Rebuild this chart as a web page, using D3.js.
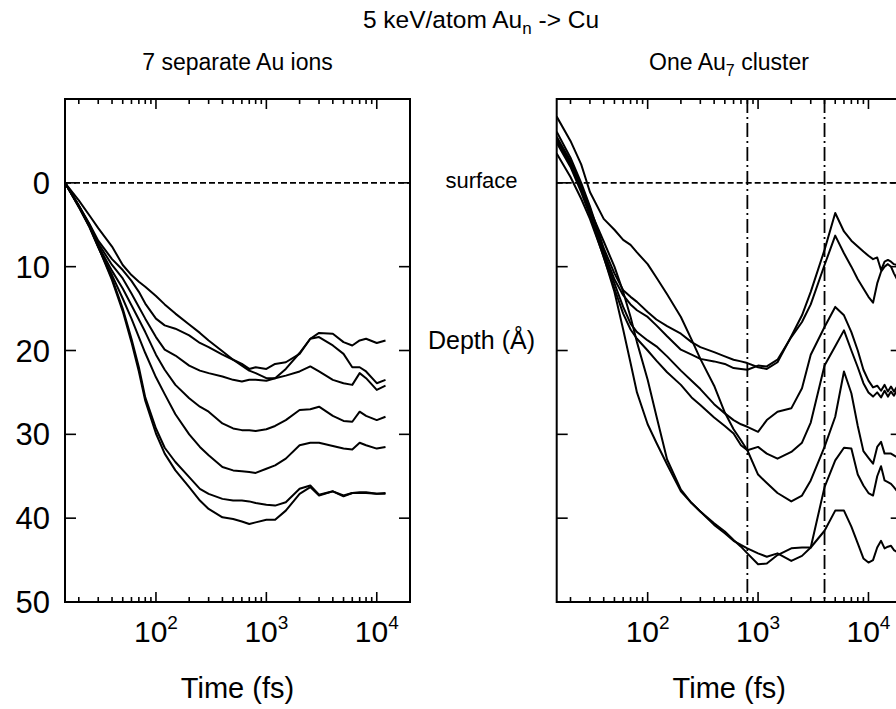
<!DOCTYPE html>
<html><head><meta charset="utf-8">
<script src="https://cdn.jsdelivr.net/npm/d3@7"></script>
<style>
html,body{margin:0;padding:0;background:#fff;}
svg{display:block;font-family:"Liberation Sans",Arial,Helvetica,sans-serif;}
</style></head>
<body>
<svg id="chart" width="896" height="709"></svg>
<script>
// ---------- data ----------
const timesLeft = [15,20,25,30,40,50,60,70,80,100,120,150,200,250,300,400,500,600,700,800,1000,1200,1500,2000,2500,3000,4000,5000,6000,7000,8000,10000,12000];
const ionA = [0,2.1,3.9,5.4,7.6,9.8,11.0,11.8,12.4,13.5,14.5,15.6,16.9,17.9,18.8,20.1,21.1,21.8,22.4,22.7,23.3,23.3,22.2,20.3,18.6,17.9,18.0,19.0,19.4,18.8,18.6,19.1,18.8];
const ionB = [0,2.7,4.9,6.9,9.1,10.4,11.7,13.0,14.4,16.2,17.0,17.4,18.2,19.1,19.6,20.5,21.1,21.6,22.2,22.0,22.2,21.6,21.4,20.4,18.6,18.4,19.4,20.4,22.0,22.0,22.5,23.9,23.5];
const ionC = [0,2.7,5.0,7.2,9.8,11.4,13.2,14.8,16.2,18.4,19.9,20.6,21.8,22.4,22.7,23.1,23.5,23.7,23.5,23.5,23.6,23.3,23.0,22.5,21.9,22.5,23.5,23.9,24.1,22.7,23.3,24.7,24.2];
const ionD = [0,2.8,5.1,7.5,10.5,12.6,14.6,16.3,17.8,20.5,22.3,24.1,25.7,26.7,27.3,28.7,29.3,29.5,29.5,29.6,29.4,29.0,28.3,27.1,27.0,26.7,27.8,28.4,28.5,27.3,27.8,28.3,27.9];
const ionE = [0,2.9,5.3,7.7,11.0,13.8,16.2,18.4,20.3,23.2,25.2,27.6,30.0,31.5,32.5,33.9,34.3,34.4,34.5,34.6,34.1,33.7,32.9,31.3,31.0,31.0,31.4,31.7,31.8,31.0,31.3,31.7,31.5];
const ionF = [0,2.8,5.2,7.6,11.4,15.0,18.6,22.0,25.6,29.3,31.6,33.3,35.1,36.5,37.1,37.7,37.9,37.9,38.0,38.2,38.4,38.5,38.1,36.5,36.1,37.2,36.8,37.3,37.0,36.9,36.9,37.1,37.0];
const ionG = [0,2.8,5.2,7.6,11.6,15.3,19.0,22.5,26.0,29.9,32.3,34.3,36.3,37.9,38.9,39.9,40.1,40.4,40.7,40.5,40.2,40.2,39.1,37.1,36.3,37.3,36.8,37.4,37.0,37.0,37.0,37.1,37.1];

const timesRight = [15,20,25,30,40,50,60,70,80,100,120,150,200,250,300,400,500,600,700,800,1000,1200,1500,2000,2500,3000,4000,5000,6000,7000,8000,9000,10000,11000,12000,13000,14000,15000,16000,17000,18000,20000];
const atom1 = [-6.1,-3.0,0.0,2.8,7.8,10.8,12.8,13.6,14.2,15.4,16.3,17.1,18.0,19.0,19.6,20.2,20.7,21.1,21.3,21.5,22.0,22.2,21.4,18.3,15.8,13.0,8.0,3.6,5.8,6.9,7.6,8.2,8.7,9.1,8.9,10.4,9.4,9.2,9.4,9.7,9.8,9.7];
const atom2 = [-5.5,-2.6,0.3,3.0,8.2,11.5,13.4,14.5,15.2,16.0,17.0,18.3,19.9,20.5,21.0,21.3,21.6,22.1,22.2,22.3,21.8,21.9,21.1,18.4,16.6,14.5,9.8,6.3,8.4,10.0,11.5,12.6,13.6,14.3,12.0,10.6,10.0,9.7,10.0,10.8,11.4,11.4];
const atom3 = [-5.1,-2.2,0.8,3.6,8.6,12.0,14.8,16.8,17.8,18.8,19.5,20.7,22.4,23.6,24.6,26.4,27.5,28.3,28.8,29.1,29.7,28.3,27.3,26.9,24.5,20.5,17.2,14.8,15.8,17.8,20.0,22.3,23.6,24.4,24.2,24.8,24.1,24.9,24.3,24.9,24.4,24.6];
const atom4 = [-4.8,-1.9,1.1,3.9,8.9,12.6,15.6,17.5,18.6,20.0,21.2,22.6,24.1,25.6,26.5,28.0,29.0,29.9,31.3,31.9,31.5,32.3,32.9,32.1,31.0,28.6,21.8,19.5,17.6,20.0,22.0,23.9,25.0,25.5,25.0,25.6,24.8,25.5,24.9,25.4,24.8,25.1];
const atom5 = [-7.9,-5.0,-2.2,1.1,4.3,5.6,6.8,7.4,8.3,9.7,11.3,13.3,16.0,18.7,21.0,24.2,27.4,29.4,30.7,31.9,34.8,35.8,37.0,38.0,37.3,35.5,31.5,27.9,22.5,25.1,29.0,32.0,32.8,33.5,31.5,30.9,32.3,32.3,32.3,32.5,32.7,32.6];
const atom6 = [-5.3,-2.3,0.6,3.2,7.0,10.0,13.0,16.0,19.0,23.5,27.8,33.0,36.6,38.2,39.2,40.8,41.8,42.7,43.2,43.6,44.2,44.6,44.2,45.1,44.5,43.5,36.3,33.1,31.6,31.7,34.8,36.1,37.0,37.3,35.0,33.8,35.5,35.7,35.9,36.3,36.7,36.7];
const atom7 = [-3.5,-0.7,1.9,4.3,8.8,13.0,17.5,21.5,25.0,28.8,31.0,33.6,36.8,38.2,39.2,40.6,41.6,42.6,43.4,44.2,45.5,45.4,44.4,43.6,43.5,43.5,41.5,39.1,39.1,41.0,43.0,44.8,45.3,45.0,43.5,42.7,43.6,43.4,43.3,43.8,44.0,44.0];

const depthTicks = [0,10,20,30,40,50];
const majorTimes = [100,1000,10000];
const markerTimes = [800,4000];
const timeDomain = [15,20000];
const depthDomain = [-10,50];

// ---------- layout ----------
const svg = d3.select("#chart");
const plotTop = 99, plotBottom = 602;
const panels = [
  {x0:65, x1:410, times:timesLeft, series:[ionA,ionB,ionC,ionD,ionE,ionF,ionG], markers:false},
  {x0:556.7, x1:901.7, times:timesRight, series:[atom1,atom2,atom3,atom4,atom5,atom6,atom7], markers:true}
];
const y = d3.scaleLinear().domain(depthDomain).range([plotTop,plotBottom]);

panels.forEach((p,i)=>{
  const x = d3.scaleLog().domain(timeDomain).range([p.x0,p.x1]);
  const g = svg.append("g");
  const clipId = "clip"+i;
  svg.append("clipPath").attr("id",clipId).append("rect")
    .attr("x",p.x0).attr("y",plotTop).attr("width",p.x1-p.x0).attr("height",plotBottom-plotTop);

  g.append("line").attr("x1",p.x0).attr("x2",p.x1).attr("y1",y(0)).attr("y2",y(0))
    .attr("stroke","#000").attr("stroke-width",1.6).attr("stroke-dasharray","6,3");

  if(p.markers){
    markerTimes.forEach(t=>{
      g.append("line").attr("x1",x(t)).attr("x2",x(t)).attr("y1",plotTop).attr("y2",plotBottom)
        .attr("stroke","#000").attr("stroke-width",1.8).attr("stroke-dasharray","14,4,2,4");
    });
  }

  const line = d3.line().x((d,k)=>x(p.times[k])).y(d=>y(d));
  g.append("g").attr("clip-path",`url(#${clipId})`).selectAll("path").data(p.series).join("path")
    .attr("d",line).attr("fill","none").attr("stroke","#000").attr("stroke-width",2)
    .attr("stroke-linejoin","round");

  g.append("rect").attr("x",p.x0).attr("y",plotTop).attr("width",p.x1-p.x0).attr("height",plotBottom-plotTop)
    .attr("fill","none").attr("stroke","#000").attr("stroke-width",2);

  const allTicks = x.ticks().filter(t=>t>timeDomain[0] && t<timeDomain[1]);
  allTicks.forEach(t=>{
    const major = majorTimes.includes(t);
    const len = major ? 10 : 5;
    g.append("line").attr("x1",x(t)).attr("x2",x(t)).attr("y1",plotBottom).attr("y2",plotBottom-len)
      .attr("stroke","#000").attr("stroke-width",1.6);
    g.append("line").attr("x1",x(t)).attr("x2",x(t)).attr("y1",plotTop).attr("y2",plotTop+len)
      .attr("stroke","#000").attr("stroke-width",1.6);
  });
  majorTimes.forEach(t=>{
    const txt = g.append("text").attr("x",x(t)).attr("y",642).attr("text-anchor","middle")
      .attr("font-size",30).attr("fill","#000");
    txt.append("tspan").text("10");
    txt.append("tspan").attr("dy",-13).attr("font-size",19).text(String(Math.round(Math.log10(t))));
  });

  y.ticks(6).filter(v=>v>depthDomain[0] && v<depthDomain[1]).forEach(v=>{
    g.append("line").attr("x1",p.x0).attr("x2",p.x0+11).attr("y1",y(v)).attr("y2",y(v))
      .attr("stroke","#000").attr("stroke-width",1.6);
    g.append("line").attr("x1",p.x1).attr("x2",p.x1-11).attr("y1",y(v)).attr("y2",y(v))
      .attr("stroke","#000").attr("stroke-width",1.6);
  });

  g.append("text").attr("x",(p.x0+p.x1)/2).attr("y",698).attr("text-anchor","middle")
    .attr("font-size",29).text("Time (fs)");
});

svg.append("g").selectAll("text").data(depthTicks).join("text")
  .attr("x",50).attr("y",d=>y(d)+11).attr("text-anchor","end")
  .attr("font-size",31).text(d=>String(d));

const title = svg.append("text").attr("x",481).attr("y",28).attr("text-anchor","middle").attr("font-size",24.5);
title.append("tspan").text("5 keV/atom Au");
title.append("tspan").attr("dy",6).attr("font-size",17).text("n");
title.append("tspan").attr("dy",-6).text(" -> Cu");

svg.append("text").attr("x",237.5).attr("y",70).attr("text-anchor","middle").attr("font-size",23)
  .text("7 separate Au ions");
const sub2 = svg.append("text").attr("x",729).attr("y",70).attr("text-anchor","middle").attr("font-size",23);
sub2.append("tspan").text("One Au");
sub2.append("tspan").attr("dy",6).attr("font-size",16).text("7");
sub2.append("tspan").attr("dy",-6).text(" cluster");

svg.append("text").attr("x",481.5).attr("y",188).attr("text-anchor","middle").attr("font-size",22).text("surface");
svg.append("text").attr("x",481.5).attr("y",349).attr("text-anchor","middle").attr("font-size",25).text("Depth (Å)");
</script>
</body></html>
